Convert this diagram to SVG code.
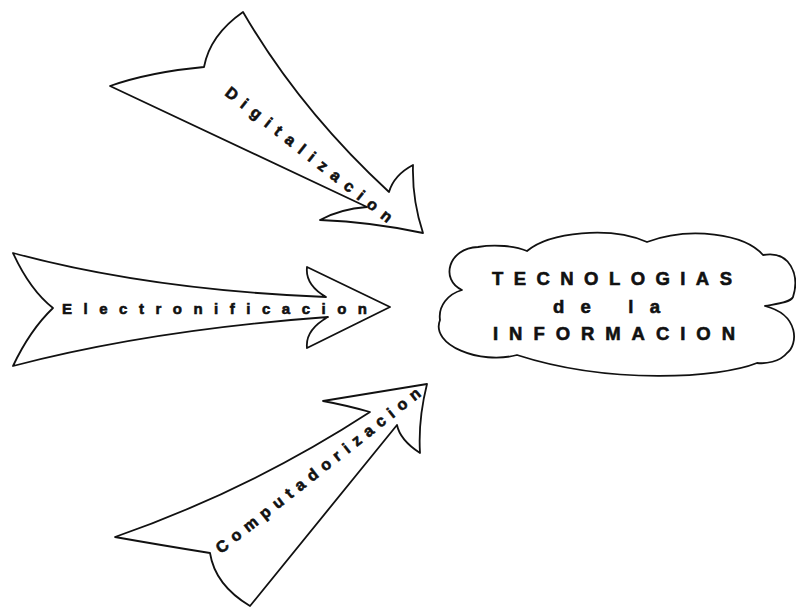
<svg xmlns="http://www.w3.org/2000/svg" width="796" height="610" viewBox="0 0 796 610">
<style>
.shape{fill:#ffffff;stroke:#111111;stroke-width:1.8;stroke-linejoin:round}
.lbl{font-family:"Liberation Sans",Arial,sans-serif;font-weight:700;fill:#111111;stroke:#111111;stroke-width:0.6}
</style>
<rect width="796" height="610" fill="#ffffff"/>
<g id="connectors">
  <g id="arrow-digitalizacion">
    <path class="shape" d="M 243,12 Q 210,35 204,67 Q 150,72 110,86 L 367,207 Q 340,209 320,220 Q 372,222 423,233 Q 412,200 413,165 Q 394,175 389,192 Q 300,110 243,12 Z"/>
    <text class="lbl" font-size="16" text-anchor="middle" x="0" y="5.5" textLength="208" lengthAdjust="spacing" transform="translate(309,154.5) rotate(38.25)">Digitalizacion</text>
  </g>
  <g id="arrow-electronificacion">
    <path class="shape" d="M 13,253 Q 150,290 326,297 Q 305,285 307,267 L 390,307 L 307,348 Q 305,330 328,317 Q 150,330 13,366 Q 30,330 53,308 Q 30,290 13,253 Z"/>
    <text class="lbl" font-size="15" x="62" y="314" textLength="305" lengthAdjust="spacing">Electronificacion</text>
  </g>
  <g id="arrow-computadorizacion">
    <path class="shape" d="M 115,537 Q 250,490 370,412 Q 345,405 323,401 L 427,384 Q 418,420 420,453 Q 400,440 397,425 L 250,606 Q 215,585 210,553 Q 160,545 115,537 Z"/>
    <text class="lbl" font-size="16" text-anchor="middle" x="0" y="5.5" textLength="256" lengthAdjust="spacing" transform="translate(318,470.5) rotate(-38.3)">Computadorizacion</text>
  </g>
</g>
<g id="tecnologias">
  <path class="shape" d="M 462,290 C 440,280 448,248 478,247 C 495,244 515,246 527,251 C 550,232 610,226 647,242 C 690,226 745,234 763,255 C 790,250 800,275 793,297 C 790,303 775,304 765,306 C 800,315 798,345 787,353 C 780,362 765,364 757,363 C 720,378 610,385 517,355 C 480,365 430,345 440,320 C 438,306 448,294 462,290 Z"/>
  <text class="lbl" font-size="18.5" x="492" y="285" textLength="240" lengthAdjust="spacing">TECNOLOGIAS</text>
  <text class="lbl" font-size="18.5" x="553" y="313" textLength="107" lengthAdjust="spacing">de la</text>
  <text class="lbl" font-size="18.5" x="493" y="340" textLength="242" lengthAdjust="spacing">INFORMACION</text>
</g>
</svg>
